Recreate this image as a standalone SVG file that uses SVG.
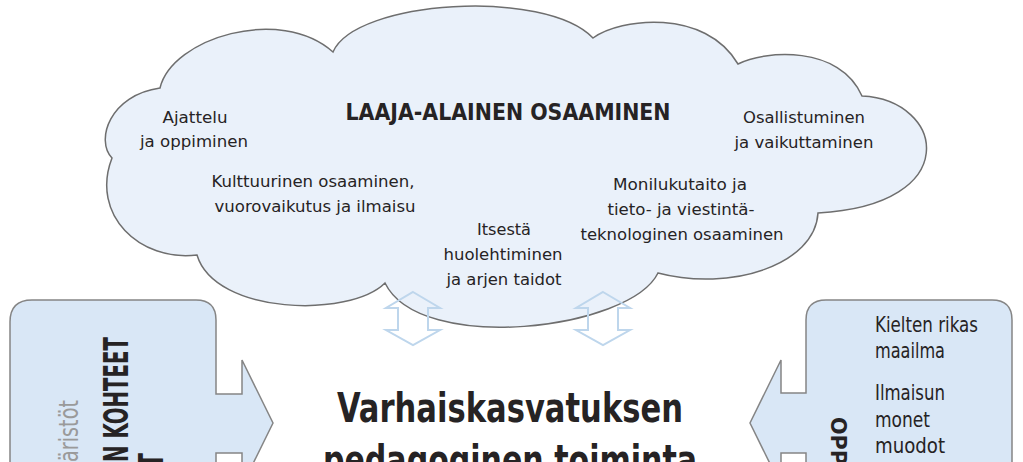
<svg xmlns="http://www.w3.org/2000/svg" width="1023" height="462" viewBox="0 0 1023 462">
<style>
.t{font-family:"DejaVu Sans Condensed","DejaVu Sans",sans-serif;font-stretch:condensed;fill:#262324}
.s{font-size:16.5px}
.c{text-anchor:middle}
.b{font-weight:bold}
.bx{font-size:22px}
.ttl{font-size:23px}
.big{font-size:41px}
.gr{font-size:26px;fill:#9a9a9a}
.lb{font-size:33px}
.rb{font-size:22px}
.dbl{fill:none;stroke:#bed6ec;stroke-width:2;stroke-linejoin:miter}
.box{fill:#d9e7f6;stroke:#858585;stroke-width:1.5}
</style>
<rect width="1023" height="462" fill="#ffffff"/>
<g id="cloud">
<path d="M160,88 C172,38 280,5 333,52 C355,0 545,-12 593,38 C620,18 705,8 738,64 C765,50 840,45 862,96 C945,100 965,205 818,213 C815,265 730,292 658,273 C630,330 420,355 385,283 C350,318 215,315 197,255 C140,262 90,215 112,158 C95,140 110,95 160,88 Z" fill="#eaf1fa" stroke="#6e6e6e" stroke-width="1.5"/>
<text class="t c b ttl" x="508" y="120" textLength="325" lengthAdjust="spacingAndGlyphs">LAAJA-ALAINEN OSAAMINEN</text>
<text class="t c s" x="195" y="123" textLength="65" lengthAdjust="spacingAndGlyphs">Ajattelu</text>
<text class="t c s" x="194" y="147" textLength="108" lengthAdjust="spacingAndGlyphs">ja oppiminen</text>
<text class="t c s" x="804" y="123" textLength="122" lengthAdjust="spacingAndGlyphs">Osallistuminen</text>
<text class="t c s" x="804" y="148" textLength="139" lengthAdjust="spacingAndGlyphs">ja vaikuttaminen</text>
<text class="t c s" x="313" y="187" textLength="203" lengthAdjust="spacingAndGlyphs">Kulttuurinen osaaminen,</text>
<text class="t c s" x="315" y="212" textLength="201" lengthAdjust="spacingAndGlyphs">vuorovaikutus ja ilmaisu</text>
<text class="t c s" x="680" y="190" textLength="134" lengthAdjust="spacingAndGlyphs">Monilukutaito ja</text>
<text class="t c s" x="681" y="215" textLength="147" lengthAdjust="spacingAndGlyphs">tieto- ja viestintä-</text>
<text class="t c s" x="682" y="240" textLength="203" lengthAdjust="spacingAndGlyphs">teknologinen osaaminen</text>
<text class="t c s" x="504" y="235" textLength="54" lengthAdjust="spacingAndGlyphs">Itsestä</text>
<text class="t c s" x="503" y="260" textLength="119" lengthAdjust="spacingAndGlyphs">huolehtiminen</text>
<text class="t c s" x="504" y="285" textLength="115" lengthAdjust="spacingAndGlyphs">ja arjen taidot</text>
</g>
<g id="connectors">
<path class="dbl" d="M413,292 L440,308 L428,308 L428,330 L440,330 L413,345 L386,330 L398,330 L398,308 L386,308 Z"/>
<path class="dbl" d="M603,292 L630,308 L618,308 L618,330 L630,330 L603,345 L576,330 L588,330 L588,308 L576,308 Z"/>
</g>
<g id="left-box">
<path class="box" d="M32,300 H196 Q216,300 216,320 V394 H242 V360 L273,423 L242,486 V453 H216 V520 H10 V322 Q10,300 32,300 Z"/>
<text class="t gr" transform="translate(78,462) rotate(-90)" textLength="62" lengthAdjust="spacingAndGlyphs">äristöt</text>
<text class="t b lb" transform="translate(128,462) rotate(-90)" textLength="125" lengthAdjust="spacingAndGlyphs">N KOHTEET</text>
<text class="t b lb" transform="translate(163,468) rotate(-90)" textLength="15" lengthAdjust="spacingAndGlyphs">T</text>
</g>
<g id="right-box">
<path class="box" d="M826,300 H992 Q1012,300 1012,320 V520 H806 V453 H781 V486 L750,423 L781,360 V393 H806 V320 Q806,300 826,300 Z"/>
<text class="t b rb" transform="translate(831,417) rotate(90)" textLength="48" lengthAdjust="spacingAndGlyphs">OPP</text>
<text class="t bx" x="875" y="332" textLength="103" lengthAdjust="spacingAndGlyphs">Kielten rikas</text>
<text class="t bx" x="875" y="358" textLength="70" lengthAdjust="spacingAndGlyphs">maailma</text>
<text class="t bx" x="875" y="400" textLength="70" lengthAdjust="spacingAndGlyphs">Ilmaisun</text>
<text class="t bx" x="875" y="427" textLength="55" lengthAdjust="spacingAndGlyphs">monet</text>
<text class="t bx" x="875" y="453" textLength="70" lengthAdjust="spacingAndGlyphs">muodot</text>
</g>
<g id="center">
<text class="t c b big" x="510" y="422" textLength="346" lengthAdjust="spacingAndGlyphs">Varhaiskasvatuksen</text>
<text class="t c b big" x="510" y="474" textLength="374" lengthAdjust="spacingAndGlyphs">pedagoginen toiminta</text>
</g>
</svg>
